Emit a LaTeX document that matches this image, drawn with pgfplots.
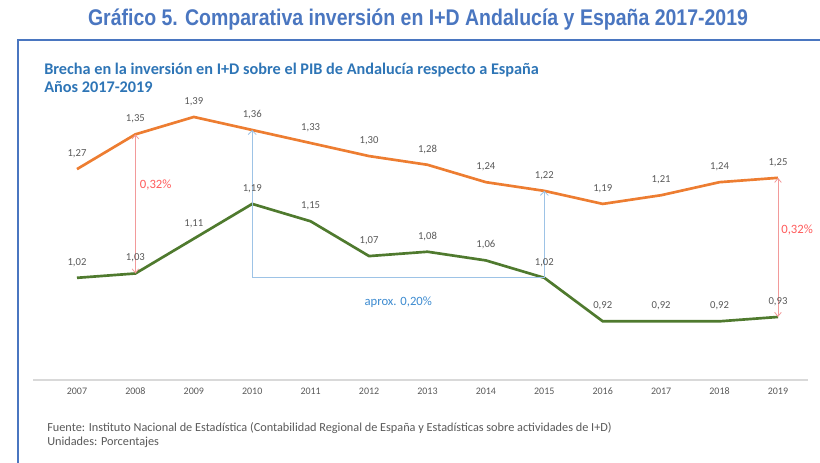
\documentclass[border=0pt]{standalone}
\usepackage{fontspec}
\setmainfont{Carlito}
\newfontfamily\titlefont[FakeStretch=0.86]{Liberation Sans}
\usepackage{pgfplots}
\pgfplotsset{compat=1.18}
\usetikzlibrary{arrows.meta}

\definecolor{titleblue}{HTML}{4A76C0}
\definecolor{subblue}{HTML}{2E75B6}
\definecolor{spain}{HTML}{ED7D31}
\definecolor{andal}{HTML}{4F7A2E}
\definecolor{lblgray}{HTML}{595959}
\definecolor{gapred}{HTML}{FF5B5B}
\definecolor{gapredline}{HTML}{F29A9A}
\definecolor{gapblue}{HTML}{9DC3E6}
\definecolor{gaptext}{HTML}{3D8BD0}

\begin{document}
\begin{tikzpicture}
\begin{scope}[x=0.75pt,y=0.75pt]
\useasboundingbox (0,0) rectangle (820,463);
% marco
\draw[titleblue, line width=1.4pt] (18,0) -- (18,423) -- (821,423);
\node[font=\titlefont\bfseries\fontsize{17}{20}\selectfont, text=titleblue] at (418,443)
  {Gráfico 5. Comparativa inversión en I+D Andalucía y España 2017-2019};
\node[anchor=west, inner sep=0pt, font=\bfseries\fontsize{12.2}{14}\selectfont, text=subblue] at (44,393)
  {Brecha en la inversión en I+D sobre el PIB de Andalucía respecto a España};
\node[anchor=west, inner sep=0pt, font=\bfseries\fontsize{12.2}{14}\selectfont, text=subblue] at (44,376)
  {Años 2017-2019};
\node[anchor=west, inner sep=0pt, font=\fontsize{9.2}{10}\selectfont, text=lblgray] at (47,35)
  {Fuente: Instituto Nacional de Estadística (Contabilidad Regional de España y Estadísticas sobre actividades de I+D)};
\node[anchor=west, inner sep=0pt, font=\fontsize{9.2}{10}\selectfont, text=lblgray] at (47,21)
  {Unidades: Porcentajes};
\end{scope}

\begin{axis}[
  at={(24.75pt,62.25pt)}, anchor=south west,
  scale only axis,
  width=581.25pt, height=210pt,
  xmin=2006.247, xmax=2019.514,
  ymin=0.785, ymax=1.429,
  axis x line=bottom, axis y line=none,
  axis line style={-, draw=black!15, line width=1.5pt},
  xtick={2007,2008,...,2019},
  /pgf/number format/assume math mode=true,
  xticklabel style={/pgf/number format/1000 sep={}, font=\fontsize{7.5}{8}\selectfont, text=lblgray,
    text height=5.5pt, text depth=0pt, yshift=-2pt},
  major tick length=0pt,
  clip=false,
  nodes near coords={\pgfmathprintnumber[use comma,fixed,fixed zerofill,precision=2,assume math mode=true]{\pgfplotspointmeta}},
  every node near coord/.append style={font=\fontsize{8}{9}\selectfont, text=lblgray, yshift=4pt},
]
% España
\addplot[spain, line width=2pt, no markers] coordinates {
  (2007,1.27) (2008,1.35) (2009,1.39) (2010,1.36) (2011,1.33) (2012,1.30) (2013,1.28)
  (2014,1.24) (2015,1.22) (2016,1.19) (2017,1.21) (2018,1.24) (2019,1.25)};
% Andalucía
\addplot[andal, line width=2pt, no markers] coordinates {
  (2007,1.02) (2008,1.03) (2009,1.11) (2010,1.19) (2011,1.15) (2012,1.07) (2013,1.08)
  (2014,1.06) (2015,1.02) (2016,0.92) (2017,0.92) (2018,0.92) (2019,0.93)};

% brecha 2008 y 2019
\draw[gapredline, line width=0.6pt, {Straight Barb[length=3pt,width=5pt]}-{Straight Barb[length=3pt,width=5pt]}]
  (axis cs:2008,1.35) -- (axis cs:2008,1.03);
\node[anchor=west, text=gapred, font=\fontsize{9.5}{10}\selectfont, inner sep=1pt] at (axis cs:2008.05,1.234) {0,32\%};
\draw[gapredline, line width=0.6pt, {Straight Barb[length=3pt,width=5pt]}-{Straight Barb[length=3pt,width=5pt]}]
  (axis cs:2019,1.25) -- (axis cs:2019,0.93);
\node[anchor=west, text=gapred, font=\fontsize{9.5}{10}\selectfont, inner sep=1pt] at (axis cs:2019.03,1.13) {0,32\%};

% distancia aproximada
\draw[gapblue, line width=0.6pt, -{Straight Barb[length=3pt,width=6pt]}]
  (axis cs:2015,1.02) -- (axis cs:2010,1.02) -- (axis cs:2010,1.36);
\draw[gapblue, line width=0.6pt, -{Straight Barb[length=3pt,width=6pt]}]
  (axis cs:2015,1.02) -- (axis cs:2015,1.22);
\node[text=gaptext, font=\fontsize{9.5}{10}\selectfont] at (axis cs:2012.5,0.965) {aprox. 0,20\%};
\end{axis}
\end{tikzpicture}
\end{document}
